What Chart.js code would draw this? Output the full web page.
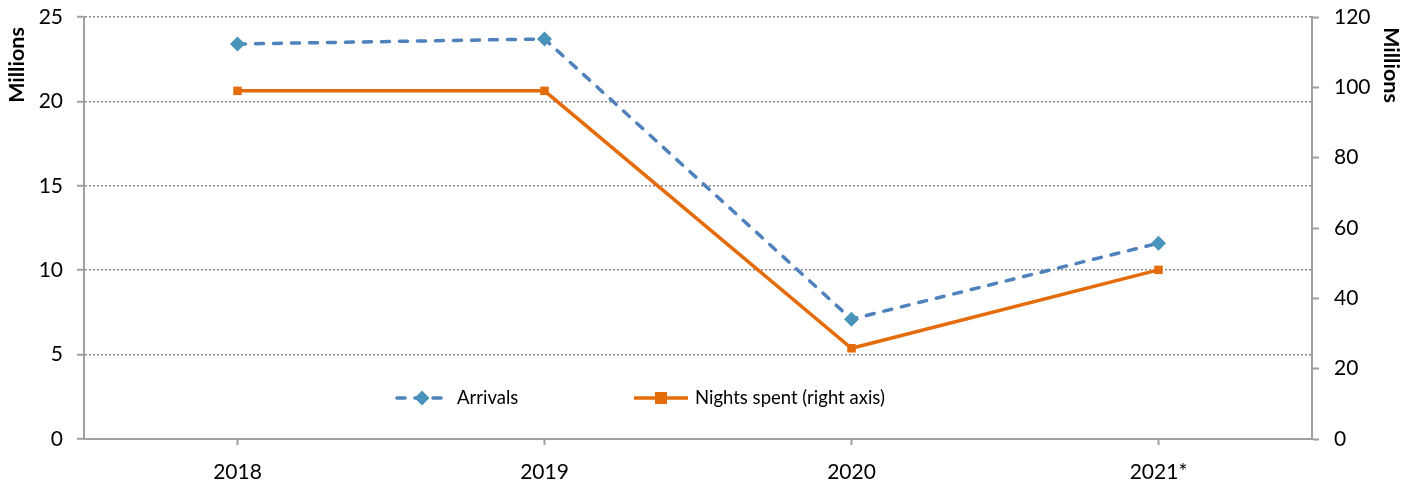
<!DOCTYPE html>
<html><head><meta charset="utf-8">
<script src="https://cdn.jsdelivr.net/npm/chart.js@4"></script>
<style>html,body{margin:0;padding:0;background:#fff}#wrap{width:1417px;height:487px}</style>
</head><body><div id="wrap"><canvas id="c" width="1417" height="487"></canvas></div>
<script>
const categories = ["2018", "2019", "2020", "2021*"];
const arrivals = [23.4, 23.7, 7.1, 11.6];
const nightsSpent = [99.0, 99.0, 25.8, 48.1];
const leftTicks = [0, 5, 10, 15, 20, 25];
const rightTicks = [0, 20, 40, 60, 80, 100, 120];
const seriesNames = ["Arrivals", "Nights spent (right axis)"];
const axisTitle = "Millions";

const FONT = "Lato";
const GREY = "#a0a0a0";
const BLUE = "#4f81bd";
const TEAL = "#4a94bb";
const ORANGE = "#e46c0a";

const overlay = {
  id: "overlay",
  afterDraw(chart) {
    const ctx = chart.ctx;
    ctx.save();
    ctx.font = "bold 21.5px " + FONT;
    ctx.fillStyle = "#000";
    ctx.textAlign = "center";
    ctx.textBaseline = "middle";
    ctx.save(); ctx.translate(17, 65); ctx.rotate(-Math.PI/2); ctx.fillText(axisTitle, 0, 0); ctx.restore();
    ctx.save(); ctx.translate(1391, 65); ctx.rotate(Math.PI/2); ctx.fillText(axisTitle, 0, 0); ctx.restore();
    const ly = 398;
    ctx.lineWidth = 3.5;
    ctx.lineCap = "round";
    ctx.strokeStyle = BLUE;
    ctx.setLineDash([8, 10]);
    ctx.beginPath(); ctx.moveTo(397, ly); ctx.lineTo(450, ly); ctx.stroke();
    ctx.setLineDash([]);
    ctx.fillStyle = TEAL;
    ctx.beginPath(); ctx.moveTo(422, ly-7.5); ctx.lineTo(429.5, ly); ctx.lineTo(422, ly+7.5); ctx.lineTo(414.5, ly); ctx.closePath(); ctx.fill();
    ctx.strokeStyle = ORANGE; ctx.lineCap = "butt";
    ctx.beginPath(); ctx.moveTo(634, ly); ctx.lineTo(688, ly); ctx.stroke();
    ctx.fillStyle = ORANGE;
    ctx.fillRect(655, ly-6, 12, 12);
    ctx.fillStyle = "#000";
    ctx.font = "18.5px " + FONT;
    ctx.textAlign = "left";
    ctx.fillText(seriesNames[0], 457, ly);
    ctx.fillText(seriesNames[1], 695, ly);
    ctx.restore();
  }
};

new Chart(document.getElementById("c"), {
  type: "line",
  data: {
    labels: categories,
    datasets: [
      {
        label: seriesNames[0], data: arrivals, yAxisID: "y",
        borderColor: BLUE, borderWidth: 3.5, borderDash: [8, 10], borderCapStyle: "round",
        pointStyle: "rectRot", pointRadius: 7.5, pointBackgroundColor: TEAL, pointBorderColor: TEAL, pointBorderWidth: 0,
        tension: 0, fill: false, order: 1
      },
      {
        label: seriesNames[1], data: nightsSpent, yAxisID: "y1",
        borderColor: ORANGE, borderWidth: 3.5,
        pointStyle: "rect", pointRadius: 6, pointBackgroundColor: ORANGE, pointBorderColor: ORANGE, pointBorderWidth: 0,
        tension: 0, fill: false, order: 2
      }
    ]
  },
  options: {
    responsive: false, animation: false,
    layout: { padding: { top: 17, left: 0, right: 0, bottom: 0 } },
    plugins: { legend: { display: false }, tooltip: { enabled: false } },
    scales: {
      x: {
        type: "category", offset: true,
        grid: { drawOnChartArea: false, drawTicks: true, tickLength: 6, tickColor: GREY, tickWidth: 2, offset: false },
        border: { color: GREY, width: 2 },
        ticks: { color: "#000", font: { family: FONT, size: 21 }, padding: 15, maxRotation: 0 },
        afterFit(s) { s.height = 48; s.paddingLeft = 0; s.paddingRight = 0; }
      },
      y: {
        position: "left", min: 0, max: 25,
        afterBuildTicks(s) { s.ticks = leftTicks.map(v => ({ value: v })); },
        grid: { color: "#8c8c8c", lineWidth: 1.5, drawTicks: true, tickLength: 7, tickColor: GREY, tickWidth: 2 },
        border: { color: GREY, width: 2, dash: [2, 2] },
        ticks: { color: "#000", font: { family: FONT, size: 21 }, padding: 14 },
        afterFit(s) { s.width = 84; s.paddingTop = 0; s.paddingBottom = 0; }
      },
      y1: {
        position: "right", min: 0, max: 120,
        afterBuildTicks(s) { s.ticks = rightTicks.map(v => ({ value: v })); },
        grid: { drawOnChartArea: false, drawTicks: true, tickLength: 7, tickColor: GREY, tickWidth: 2 },
        border: { color: GREY, width: 2 },
        ticks: { color: "#000", font: { family: FONT, size: 21 }, padding: 15 },
        afterFit(s) { s.width = 105; s.paddingTop = 0; s.paddingBottom = 0; }
      }
    }
  },
  plugins: [overlay]
});
</script></body></html>
